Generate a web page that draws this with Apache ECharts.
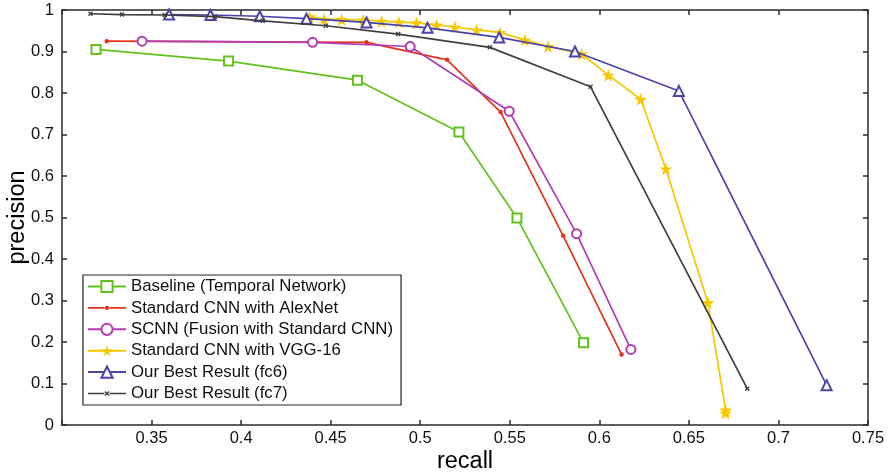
<!DOCTYPE html>
<html>
<head>
<meta charset="utf-8">
<script src="https://cdn.jsdelivr.net/npm/echarts@6/dist/echarts.min.js"></script>
<style>html,body{margin:0;padding:0;background:#fff;}#c{width:891px;height:473px;}</style>
</head>
<body>
<div id="c"></div>
<script>
const seriesNames = [
  'Baseline (Temporal Network)',
  'Standard CNN with AlexNet',
  'SCNN (Fusion with Standard CNN)',
  'Standard CNN with VGG-16',
  'Our Best Result (fc6)',
  'Our Best Result (fc7)'
];
const baseline = [[0.319,0.905],[0.393,0.877],[0.465,0.831],[0.5216,0.706],[0.554,0.499],[0.5912,0.198]];
const alexnet = [[0.325,0.925],[0.470,0.922],[0.515,0.880],[0.5449,0.754],[0.5798,0.456],[0.6124,0.170]];
const scnn = [[0.3447,0.925],[0.4399,0.922],[0.4944,0.912],[0.5497,0.756],[0.5873,0.461],[0.6176,0.182]];
const vgg16 = [[0.4383,0.984],[0.4463,0.978],[0.4561,0.977],[0.4681,0.976],[0.4784,0.973],[0.4881,0.971],[0.4979,0.969],[0.5091,0.964],[0.5193,0.959],[0.5315,0.952],[0.5445,0.946],[0.5584,0.928],[0.5714,0.912],[0.5901,0.894],[0.6050,0.843],[0.6231,0.785],[0.6372,0.617],[0.6606,0.295],[0.6705,0.036],[0.6705,0.029]];
const fc6 = [[0.3598,0.989],[0.3829,0.988],[0.4104,0.985],[0.4365,0.979],[0.4700,0.970],[0.5041,0.957],[0.5441,0.934],[0.5864,0.900],[0.6444,0.805],[0.7269,0.096]];
const fc7 = [[0.3159,0.991],[0.3335,0.989],[0.3574,0.988],[0.3853,0.984],[0.412,0.974],[0.4473,0.962],[0.4877,0.942],[0.5389,0.910],[0.5951,0.815],[0.6826,0.0875]];
const xTicks = {min:0.3, max:0.75, step:0.05};
const yTicks = {min:0, max:1, step:0.1};

const colors = ['#62c11c','#e4331c','#b23cb3','#f6c800','#4a45a9','#3f3f3f'];
const starPath = 'path://M50,0 L61,35 L98,35 L68,57 L79,91 L50,70 L21,91 L32,57 L2,35 L39,35 Z';
const xPath = 'path://M0,2 L2,0 L5,3 L8,0 L10,2 L7,5 L10,8 L8,10 L5,7 L2,10 L0,8 L3,5 Z';
const corners = 'M0,0 L0.01,0 L0,0.01 Z M38,14 L37.99,14 L38,13.99 Z ';
const dotLegend = 'path://' + corners +
  'M0,6.2 L16.6,6.2 L16.6,7.8 L0,7.8 Z M21.4,6.2 L38,6.2 L38,7.8 L21.4,7.8 Z ' +
  'M16.9,7 A2.1,2.1 0 1 0 21.1,7 A2.1,2.1 0 1 0 16.9,7 Z';
const xLegend = 'path://' + corners +
  'M0,6.2 L16.5,6.2 L16.5,7.8 L0,7.8 Z M21.5,6.2 L38,6.2 L38,7.8 L21.5,7.8 Z ' +
  'M16.5,5.5 L17.5,4.5 L19,6 L20.5,4.5 L21.5,5.5 L20,7 L21.5,8.5 L20.5,9.5 L19,8 L17.5,9.5 L16.5,8.5 L18,7 Z';
const symbols = [
  {symbol:'emptyRect', size:9, bw:1.6},
  {symbol:'circle', size:4.5, bw:0},
  {symbol:'emptyCircle', size:9, bw:1.6},
  {symbol:starPath, size:13, bw:0},
  {symbol:'emptyTriangle', size:10, bw:1.6},
  {symbol:xPath, size:5, bw:0}
];
const datas = [baseline, alexnet, scnn, vgg16, fc6, fc7];
const legendIcons = [null, dotLegend, null, null, null, xLegend];

const fmt = v => { const r = Math.round(v*100)/100; return String(r); };
const axisLineStyle = {color:'#2b2b2b', width:1.5};
const font = 'Liberation Sans, Arial, sans-serif';

const chart = echarts.init(document.getElementById('c'), null, {renderer:'canvas'});
chart.setOption({
  animation:false,
  backgroundColor:'#fff',
  grid:{left:62, right:23, top:10, bottom:48, containLabel:false, outerBoundsMode:'none'},
  legend:{
    left:83, top:275, orient:'vertical',
    padding:[3,8,3,4],
    itemWidth:38, itemHeight:14, itemGap:4.4,
    borderColor:'#222', borderWidth:1.2, backgroundColor:'#fff',
    textStyle:{fontSize:16.8, color:'#111', fontFamily:font},
    data:seriesNames.map((n,i) => legendIcons[i] ? {name:n, icon:legendIcons[i]} : {name:n})
  },
  xAxis:[{
    type:'value', min:xTicks.min, max:xTicks.max, interval:xTicks.step,
    name:'recall', nameLocation:'middle', nameGap:25, nameMoveOverlap:false,
    nameTextStyle:{fontSize:23.5, color:'#000', fontFamily:font},
    axisLine:{show:true, onZero:false, lineStyle:axisLineStyle},
    axisTick:{show:true, inside:true, length:5, lineStyle:axisLineStyle},
    axisLabel:{fontSize:16.5, color:'#111', fontFamily:font, margin:5,
      formatter: v => (Math.abs(v - xTicks.min) < 1e-9 ? '' : fmt(v))},
    splitLine:{show:false}
  },{
    type:'value', position:'top', min:xTicks.min, max:xTicks.max, interval:xTicks.step,
    axisLine:{show:true, onZero:false, lineStyle:axisLineStyle},
    axisTick:{show:true, inside:true, length:5, lineStyle:axisLineStyle},
    axisLabel:{show:false}, splitLine:{show:false}
  }],
  yAxis:[{
    type:'value', min:yTicks.min, max:yTicks.max, interval:yTicks.step,
    name:'precision', nameLocation:'middle', nameGap:32, nameRotate:90, nameMoveOverlap:false,
    nameTextStyle:{fontSize:23.5, color:'#000', fontFamily:font},
    axisLine:{show:true, onZero:false, lineStyle:axisLineStyle},
    axisTick:{show:true, inside:true, length:5, lineStyle:axisLineStyle},
    axisLabel:{fontSize:16.5, color:'#111', fontFamily:font, margin:8, formatter: v => fmt(v)},
    splitLine:{show:false}
  },{
    type:'value', position:'right', min:yTicks.min, max:yTicks.max, interval:yTicks.step,
    axisLine:{show:true, onZero:false, lineStyle:axisLineStyle},
    axisTick:{show:true, inside:true, length:5, lineStyle:axisLineStyle},
    axisLabel:{show:false}, splitLine:{show:false}
  }],
  series: seriesNames.map((n,i) => ({
    name:n, type:'line', xAxisIndex:0, yAxisIndex:0,
    data:datas[i],
    symbol:symbols[i].symbol, symbolSize:symbols[i].size,
    showAllSymbol:true,
    lineStyle:{color:colors[i], width:1.7},
    itemStyle:{color:colors[i], borderColor:colors[i], borderWidth:symbols[i].bw},
    z: 2 + i
  }))
});
</script>
</body>
</html>
